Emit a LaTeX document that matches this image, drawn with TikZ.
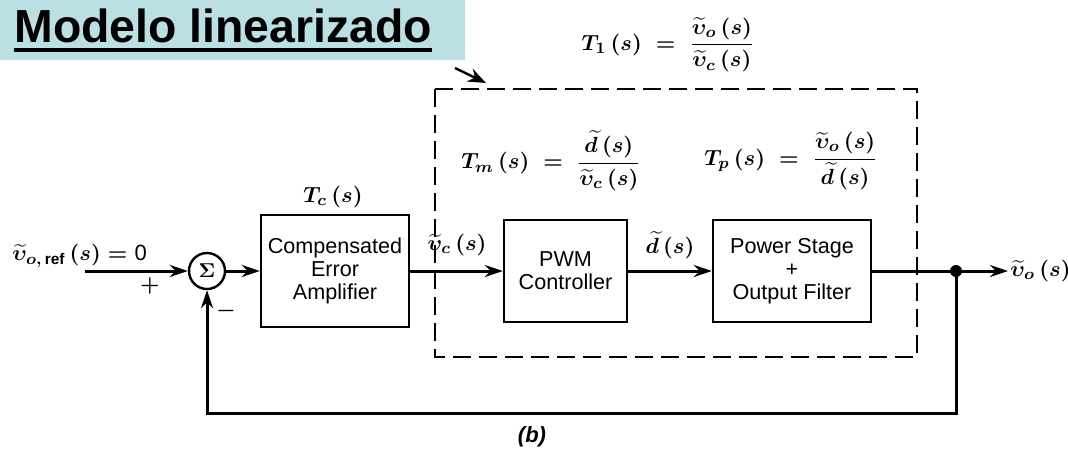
\documentclass[tikz,border=0pt]{standalone}
\usepackage{amsmath}
\usepackage{amssymb}
\usepackage{fontspec}
\setmainfont{Liberation Sans}
\usepackage{xcolor}
\usetikzlibrary{arrows.meta}

\definecolor{titlebg}{RGB}{186,224,228}
\newcommand{\vtil}[1]{\widetilde{\upsilon}_{#1}}
\newcommand{\dtil}{\widetilde{d}}

\tikzset{
  block/.style={draw, line width=1.2pt, align=center, inner sep=0pt,
    font=\fontsize{10.8}{11.6}\selectfont},
  sig/.style={line width=1.5pt, -{Stealth[length=9pt,width=6pt,inset=3pt]}},
  lbl/.style={font=\fontsize{11}{13}\selectfont\boldmath, inner sep=0pt}
}

\begin{document}
\begin{tikzpicture}[x=0.5pt, y=-0.5pt]
		\useasboundingbox (0,0) rectangle (1068,456);

		% Title banner
		\fill[titlebg] (0,0) rectangle (465,60);
		\node[anchor=base west, inner sep=0pt, font=\fontsize{23.2}{26}\selectfont\bfseries] (ttl) at (14,42) {Modelo linearizado};
		\draw[line width=2pt] ([yshift=-4pt]ttl.base west) -- ([yshift=-4pt]ttl.base east);

		% Dashed region for T1 and its pointer
		\draw[line width=1.1pt, dash pattern=on 9pt off 4pt] (435,89) rectangle (917,357);
		\coordinate (ptrA) at (455,68);
		\coordinate (ptrB) at (486,83);
		\draw[line width=1.2pt, -{Stealth[length=9pt,width=7pt]}] (ptrA) -- (ptrB);

		% Transfer function labels
		\node[lbl] (tone) at (668,45) {$T_1\,(s) \;=\; \dfrac{\vtil{o}\,(s)}{\vtil{c}\,(s)}$};
		\node[lbl] (tm) at (551,161) {$T_m\,(s) \;=\; \dfrac{\dtil\,(s)}{\vtil{c}\,(s)}$};
		\node[lbl] (tp) at (791,161) {$T_p\,(s) \;=\; \dfrac{\vtil{o}\,(s)}{\dtil\,(s)}$};
		\node[lbl] (tc) at (333,197) {$T_c\,(s)$};

		% Summing junction
		\node[draw, circle, line width=1.2pt, minimum size=18pt, inner sep=0pt] (sum) at (207,271) {$\boldsymbol{\Sigma}$};

		% Blocks
		\node[block, minimum width=74pt, minimum height=56pt] (comp) at (335,271) {Compensated\\Error\\Amplifier};
		\node[block, minimum width=61.5pt, minimum height=51pt] (pwm) at (565.5,271) {PWM\\Controller};
		\node[block, minimum width=79pt, minimum height=51pt] (pow) at (792,271) {Power Stage\\+\\Output Filter};

		% Input, output and feedback points
		\coordinate (in) at (85,271);
		\coordinate (dot) at (956,271);
		\coordinate (out) at (1008,271);
		\coordinate (fbR) at (956,413);
		\coordinate (fbL) at (207,413);

		% Signal paths
		\draw[sig] (in) -- (sum.west);
		\draw[sig] (sum.east) -- (comp.west);
		\draw[sig] (comp.east) -- (pwm.west);
		\draw[sig] (pwm.east) -- (pow.west);
		\draw[sig] (pow.east) -- (out);
		\draw[sig] (dot) -- (fbR) -- (fbL) -- (sum.south);
		\fill (dot) circle (3pt);

		% Signal labels
		\node[lbl, anchor=west] (vref) at (12,256) {$\vtil{o,\,\textbf{ref}}\,(s) = \text{0}$};
		\node[lbl] (plus) at (150,286) {$+$};
		\node[lbl] (minus) at (226,311) {$-$};
		\node[lbl] (vc) at (457,245) {$\vtil{c}\,(s)$};
		\node[lbl] (dd) at (670,245) {$\dtil\,(s)$};
		\node[lbl, anchor=west] (vo) at (1010,271) {$\vtil{o}\,(s)$};

		% Caption
		\node[font=\fontsize{11}{13}\selectfont\bfseries\itshape] (cap) at (532,437) {(b)};
	\end{tikzpicture}
\end{document}
